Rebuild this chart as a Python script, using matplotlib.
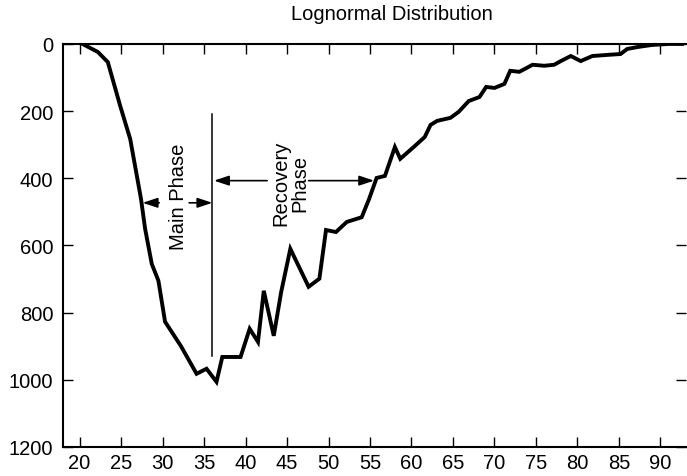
import matplotlib.pyplot as plt

plt.rcParams['font.family'] = ['Liberation Sans', 'DejaVu Sans']

# hourly storm-time index (hours) and depression (nT, plotted downward)
hours = [20.35, 22.2, 23.4, 24.9, 26.1, 27.4, 27.9, 28.7, 29.5, 30.3,
         32.2, 34.1, 35.3, 36.5, 37.2, 39.4, 40.5, 41.5, 42.2, 43.4,
         44.3, 45.4, 47.6, 48.9, 49.7, 50.9, 52.2, 54.0, 54.9, 55.8,
         56.8, 58.0, 58.65, 60.4, 61.6, 62.3, 63.1, 64.7, 65.7, 66.9,
         68.2, 69.0, 70.0, 71.2, 71.9, 73.0, 74.6, 76.0, 77.2, 78.0,
         79.2, 80.4, 81.8, 83.4, 85.2, 86.0, 87.3, 89.0, 91.0, 92.6]
depth = [0, 24, 54, 185, 283, 461, 551, 655, 705, 827,
         899, 982, 967, 1006, 932, 932, 848, 887, 735, 869,
         738, 610, 723, 699, 554, 560, 530, 516, 461, 399,
         393, 307, 342, 304, 277, 241, 229, 220, 202, 170,
         158, 128, 131, 119, 80, 83, 62, 65, 62, 51,
         36, 51, 36, 33, 30, 15, 9, 3, 0, 0]

x_ticks = list(range(20, 95, 5))
y_ticks = list(range(0, 1400, 200))

fs = 14.5

fig = plt.figure(figsize=(6.87, 4.77), dpi=100)
ax = fig.add_axes([0.0917, 0.0608, 0.907, 0.845])

ax.plot(hours, depth, color='black', lw=2.8, solid_joinstyle='miter')

ax.set_xlim(18.0, 93.1)
ax.set_ylim(1200, 0)
ax.set_xticks(x_ticks)
ax.set_yticks(y_ticks)
ax.tick_params(direction='in', length=7, width=1.0, labelsize=fs,
               top=True, right=True, pad=4)
ax.tick_params(axis='y', pad=7)

for side in ['left', 'top', 'bottom']:
    ax.spines[side].set_linewidth(1.5)
ax.spines['right'].set_visible(False)

# phase marker
ax.plot([36.0, 36.0], [208, 929], color='black', lw=1.1)

arrow = dict(arrowstyle='-|>,head_length=0.9,head_width=0.3',
             color='black', lw=1.2, shrinkA=0, shrinkB=0)
ax.annotate('', xy=(27.6, 473), xytext=(29.6, 473), arrowprops=arrow)
ax.annotate('', xy=(36.0, 473), xytext=(33.2, 473), arrowprops=arrow)
ax.text(31.9, 452, 'Main Phase', rotation=90, ha='center', va='center',
        fontsize=fs)

ax.annotate('', xy=(36.2, 407), xytext=(42.6, 407), arrowprops=arrow)
ax.annotate('', xy=(55.5, 407), xytext=(47.6, 407), arrowprops=arrow)
ax.text(45.4, 411, 'Recovery\nPhase', rotation=90, ha='center', va='center',
        fontsize=fs, linespacing=1.0, multialignment='center')

fig.text(392 / 687, 1 - 14 / 477, 'Lognormal Distribution', ha='center',
         va='center', fontsize=fs)

fig.savefig('out.png', dpi=100)
